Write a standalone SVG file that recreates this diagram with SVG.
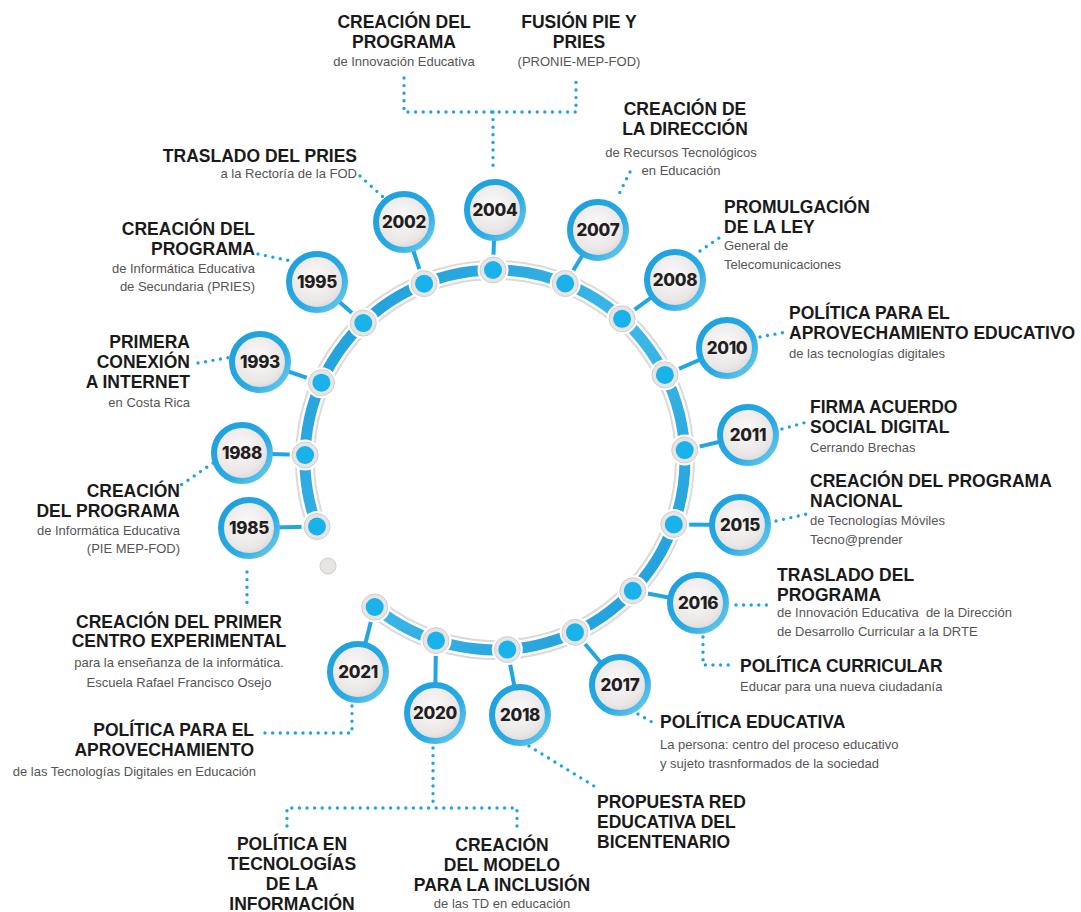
<svg xmlns="http://www.w3.org/2000/svg" width="1081" height="912" viewBox="0 0 1081 912">
<defs>
<linearGradient id="ringG" x1="0" y1="0" x2="1" y2="1">
<stop offset="0" stop-color="#1b9ad8"/>
<stop offset="0.5" stop-color="#3db8e7"/>
<stop offset="1" stop-color="#1b9ad8"/>
</linearGradient>
<linearGradient id="bubG" x1="0" y1="0" x2="1" y2="1">
<stop offset="0" stop-color="#1c9fdd"/>
<stop offset="0.6" stop-color="#2aaae2"/>
<stop offset="1" stop-color="#6fcdef"/>
</linearGradient>
<radialGradient id="inG" cx="0.45" cy="0.4" r="0.65">
<stop offset="0" stop-color="#faf9f9"/>
<stop offset="0.7" stop-color="#ebe7e7"/>
<stop offset="1" stop-color="#d6d1d1"/>
</radialGradient>
</defs>
<style>
.t{font-family:"Liberation Sans",Arial,sans-serif;font-weight:bold;font-size:17.5px;fill:#1a1a1a}
.s{font-family:"Liberation Sans",Arial,sans-serif;font-size:13px;fill:#555;white-space:pre}
.y{font-family:Inter,"Open Sans","Liberation Sans",sans-serif;font-weight:800;font-size:17px;fill:#231f20;text-anchor:middle;letter-spacing:-0.3px}
.e{text-anchor:end}
.m{text-anchor:middle}
.b{fill:url(#inG);stroke:url(#bubG);stroke-width:6}
.h{fill:#fff}
.dg{fill:#e7e4e4;stroke:#d2cece;stroke-width:1}
.db{fill:#19b2ea}
.stem{stroke:#21a6e0;stroke-width:4;fill:none}
.dt{stroke:#1da4e0;stroke-width:3.4;fill:none;stroke-dasharray:0 7.6;stroke-linecap:round}
</style>
<rect width="1081" height="912" fill="#fff"/>

<g id="connectors">
<path class="stem" d="M317,526.5 L249,528"/>
<path class="stem" d="M305.1,455 L242,453"/>
<path class="stem" d="M321.4,382.7 L260,362"/>
<path class="stem" d="M363.3,323.1 L317,282"/>
<path class="stem" d="M424.1,283.7 L404,222"/>
<path class="stem" d="M493,270 L495,210"/>
<path class="stem" d="M565.2,283.5 L598,230"/>
<path class="stem" d="M622.1,318.8 L675,280"/>
<path class="stem" d="M664.9,374.9 L727,348"/>
<path class="stem" d="M684.7,450.1 L748,435"/>
<path class="stem" d="M673.8,524.4 L740,525"/>
<path class="stem" d="M632.8,590.8 L698,603"/>
<path class="stem" d="M575,632.3 L620,685"/>
<path class="stem" d="M507.3,649.6 L520,715"/>
<path class="stem" d="M436,640.6 L435,713"/>
<path class="stem" d="M374.7,607 L358,672"/>

<path class="dt" d="M404,78 V112 H576 V80"/>
<path class="dt" d="M493,112 V172"/>
<path class="dt" d="M630,172 L618,196"/>
<path class="dt" d="M360,176 L383,197"/>
<path class="dt" d="M258,254 L291,261"/>
<path class="dt" d="M198,363 L232,357"/>
<path class="dt" d="M213,463 L181,485"/>
<path class="dt" d="M247,572 V604"/>
<path class="dt" d="M352,706 V733 H262"/>
<path class="dt" d="M433,748 V808"/>
<path class="dt" d="M287,826 V808 H517 V826"/>
<path class="dt" d="M529,746 L594,786"/>
<path class="dt" d="M638,714 L657,725"/>
<path class="dt" d="M703,637 V665 H735"/>
<path class="dt" d="M736,605 H773"/>
<path class="dt" d="M776,521 L807,514"/>
<path class="dt" d="M782,429 L807,422"/>
<path class="dt" d="M760,337 L786,332"/>
<path class="dt" d="M700,251 L719,238"/>
</g>

<g id="ring">
<path d="M317,526.5 A190,190 0 1 1 374.7,607" fill="none" stroke="#dcd9d9" stroke-width="20"/>
<path d="M317,526.5 A190,190 0 1 1 374.7,607" fill="none" stroke="#fff" stroke-width="16"/>
<path d="M317,526.5 A190,190 0 1 1 374.7,607" fill="none" stroke="url(#ringG)" stroke-width="11"/>
<circle cx="328" cy="566" r="8" class="dg"/>
</g>

<g id="n1985">
<circle cx="317" cy="526.5" r="15.5" class="h"/><circle cx="317" cy="526.5" r="13" class="dg"/><circle cx="317" cy="526.5" r="9" class="db"/>
<circle cx="249" cy="528" r="28" class="b"/><text x="249" y="534" class="y">1985</text>
</g>
<g id="n1988">
<circle cx="305.1" cy="455" r="15.5" class="h"/><circle cx="305.1" cy="455" r="13" class="dg"/><circle cx="305.1" cy="455" r="9" class="db"/>
<circle cx="242" cy="453" r="28" class="b"/><text x="242" y="459" class="y">1988</text>
<text class="t e" x="180" y="497">CREACIÓN</text>
<text class="t e" x="180" y="517">DEL PROGRAMA</text>
<text class="s e" x="180" y="535">de Informática Educativa</text>
<text class="s e" x="180" y="553">(PIE MEP-FOD)</text>
</g>
<g id="n1993">
<circle cx="321.4" cy="382.7" r="15.5" class="h"/><circle cx="321.4" cy="382.7" r="13" class="dg"/><circle cx="321.4" cy="382.7" r="9" class="db"/>
<circle cx="260" cy="362" r="28" class="b"/><text x="260" y="368" class="y">1993</text>
<text class="t e" x="190" y="348">PRIMERA</text>
<text class="t e" x="190" y="368">CONEXIÓN</text>
<text class="t e" x="190" y="388">A INTERNET</text>
<text class="s e" x="190" y="407">en Costa Rica</text>
</g>
<g id="n1995">
<circle cx="363.3" cy="323.1" r="15.5" class="h"/><circle cx="363.3" cy="323.1" r="13" class="dg"/><circle cx="363.3" cy="323.1" r="9" class="db"/>
<circle cx="317" cy="282" r="28" class="b"/><text x="317" y="288" class="y">1995</text>
<text class="t e" x="255" y="235">CREACIÓN DEL</text>
<text class="t e" x="255" y="255">PROGRAMA</text>
<text class="s e" x="255" y="273">de Informática Educativa</text>
<text class="s e" x="255" y="291">de Secundaria (PRIES)</text>
</g>
<g id="n2002">
<circle cx="424.1" cy="283.7" r="15.5" class="h"/><circle cx="424.1" cy="283.7" r="13" class="dg"/><circle cx="424.1" cy="283.7" r="9" class="db"/>
<circle cx="404" cy="222" r="28" class="b"/><text x="404" y="228" class="y">2002</text>
<text class="t e" x="357" y="162">TRASLADO DEL PRIES</text>
<text class="s e" x="357" y="178">a la Rectoría de la FOD</text>
</g>
<g id="n2004">
<circle cx="493" cy="270" r="15.5" class="h"/><circle cx="493" cy="270" r="13" class="dg"/><circle cx="493" cy="270" r="9" class="db"/>
<circle cx="495" cy="210" r="28" class="b"/><text x="495" y="216" class="y">2004</text>
<text class="t m" x="404" y="28">CREACIÓN DEL</text>
<text class="t m" x="404" y="48">PROGRAMA</text>
<text class="s m" x="404" y="66">de Innovación Educativa</text>
<text class="t m" x="579" y="28">FUSIÓN PIE Y</text>
<text class="t m" x="579" y="48">PRIES</text>
<text class="s m" x="579" y="66">(PRONIE-MEP-FOD)</text>
</g>
<g id="n2007">
<circle cx="565.2" cy="283.5" r="15.5" class="h"/><circle cx="565.2" cy="283.5" r="13" class="dg"/><circle cx="565.2" cy="283.5" r="9" class="db"/>
<circle cx="598" cy="230" r="28" class="b"/><text x="598" y="236" class="y">2007</text>
<text class="t m" x="685" y="115">CREACIÓN DE</text>
<text class="t m" x="685" y="135">LA DIRECCIÓN</text>
<text class="s m" x="681" y="157">de Recursos Tecnológicos</text>
<text class="s m" x="681" y="175">en Educación</text>
</g>
<g id="n2008">
<circle cx="622.1" cy="318.8" r="15.5" class="h"/><circle cx="622.1" cy="318.8" r="13" class="dg"/><circle cx="622.1" cy="318.8" r="9" class="db"/>
<circle cx="675" cy="280" r="28" class="b"/><text x="675" y="286" class="y">2008</text>
<text class="t" x="724" y="213">PROMULGACIÓN</text>
<text class="t" x="724" y="233">DE LA LEY</text>
<text class="s" x="724" y="250">General de</text>
<text class="s" x="724" y="269">Telecomunicaciones</text>
</g>
<g id="n2010">
<circle cx="664.9" cy="374.9" r="15.5" class="h"/><circle cx="664.9" cy="374.9" r="13" class="dg"/><circle cx="664.9" cy="374.9" r="9" class="db"/>
<circle cx="727" cy="348" r="28" class="b"/><text x="727" y="354" class="y">2010</text>
<text class="t" x="789" y="319">POLÍTICA PARA EL</text>
<text class="t" x="789" y="339">APROVECHAMIENTO EDUCATIVO</text>
<text class="s" x="789" y="358">de las tecnologías digitales</text>
</g>
<g id="n2011">
<circle cx="684.7" cy="450.1" r="15.5" class="h"/><circle cx="684.7" cy="450.1" r="13" class="dg"/><circle cx="684.7" cy="450.1" r="9" class="db"/>
<circle cx="748" cy="435" r="28" class="b"/><text x="748" y="441" class="y">2011</text>
<text class="t" x="810" y="413">FIRMA ACUERDO</text>
<text class="t" x="810" y="433">SOCIAL DIGITAL</text>
<text class="s" x="810" y="452">Cerrando Brechas</text>
</g>
<g id="n2015">
<circle cx="673.8" cy="524.4" r="15.5" class="h"/><circle cx="673.8" cy="524.4" r="13" class="dg"/><circle cx="673.8" cy="524.4" r="9" class="db"/>
<circle cx="740" cy="525" r="28" class="b"/><text x="740" y="531" class="y">2015</text>
<text class="t" x="810" y="487">CREACIÓN DEL PROGRAMA</text>
<text class="t" x="810" y="507">NACIONAL</text>
<text class="s" x="810" y="525">de Tecnologías Móviles</text>
<text class="s" x="810" y="544">Tecno@prender</text>
</g>
<g id="n2016">
<circle cx="632.8" cy="590.8" r="15.5" class="h"/><circle cx="632.8" cy="590.8" r="13" class="dg"/><circle cx="632.8" cy="590.8" r="9" class="db"/>
<circle cx="698" cy="603" r="28" class="b"/><text x="698" y="609" class="y">2016</text>
<text class="t" x="777" y="581">TRASLADO DEL</text>
<text class="t" x="777" y="601">PROGRAMA</text>
<text class="s" x="777" y="617">de Innovación Educativa  de la Dirección</text>
<text class="s" x="777" y="636">de Desarrollo Curricular a la DRTE</text>
<text class="t" x="740" y="672">POLÍTICA CURRICULAR</text>
<text class="s" x="740" y="691">Educar para una nueva ciudadanía</text>
</g>
<g id="n2017">
<circle cx="575" cy="632.3" r="15.5" class="h"/><circle cx="575" cy="632.3" r="13" class="dg"/><circle cx="575" cy="632.3" r="9" class="db"/>
<circle cx="620" cy="685" r="28" class="b"/><text x="620" y="691" class="y">2017</text>
<text class="t" x="660" y="728">POLÍTICA EDUCATIVA</text>
<text class="s" x="660" y="749">La persona: centro del proceso educativo</text>
<text class="s" x="660" y="768">y sujeto trasnformados de la sociedad</text>
</g>
<g id="n2018">
<circle cx="507.3" cy="649.6" r="15.5" class="h"/><circle cx="507.3" cy="649.6" r="13" class="dg"/><circle cx="507.3" cy="649.6" r="9" class="db"/>
<circle cx="520" cy="715" r="28" class="b"/><text x="520" y="721" class="y">2018</text>
<text class="t" x="597" y="808">PROPUESTA RED</text>
<text class="t" x="597" y="828">EDUCATIVA DEL</text>
<text class="t" x="597" y="848">BICENTENARIO</text>
</g>
<g id="n2020">
<circle cx="436" cy="640.6" r="15.5" class="h"/><circle cx="436" cy="640.6" r="13" class="dg"/><circle cx="436" cy="640.6" r="9" class="db"/>
<circle cx="435" cy="713" r="28" class="b"/><text x="435" y="719" class="y">2020</text>
<text class="t m" x="292" y="850">POLÍTICA EN</text>
<text class="t m" x="292" y="870">TECNOLOGÍAS</text>
<text class="t m" x="292" y="890">DE LA</text>
<text class="t m" x="292" y="910">INFORMACIÓN</text>
<text class="t m" x="502" y="851">CREACIÓN</text>
<text class="t m" x="502" y="871">DEL MODELO</text>
<text class="t m" x="502" y="891">PARA LA INCLUSIÓN</text>
<text class="s m" x="502" y="908">de las TD en educación</text>
</g>
<g id="n2021">
<circle cx="374.7" cy="607" r="15.5" class="h"/><circle cx="374.7" cy="607" r="13" class="dg"/><circle cx="374.7" cy="607" r="9" class="db"/>
<circle cx="358" cy="672" r="28" class="b"/><text x="358" y="678" class="y">2021</text>
<text class="t e" x="254" y="736">POLÍTICA PARA EL</text>
<text class="t e" x="254" y="756">APROVECHAMIENTO</text>
<text class="s e" x="256" y="776">de las Tecnologías Digitales en Educación</text>
</g>
<g id="n1985-label">
<text class="t m" x="179" y="628">CREACIÓN DEL PRIMER</text>
<text class="t m" x="179" y="647">CENTRO EXPERIMENTAL</text>
<text class="s m" x="179" y="667">para la enseñanza de la informática.</text>
<text class="s m" x="179" y="687">Escuela Rafael Francisco Osejo</text>
</g>
</svg>
